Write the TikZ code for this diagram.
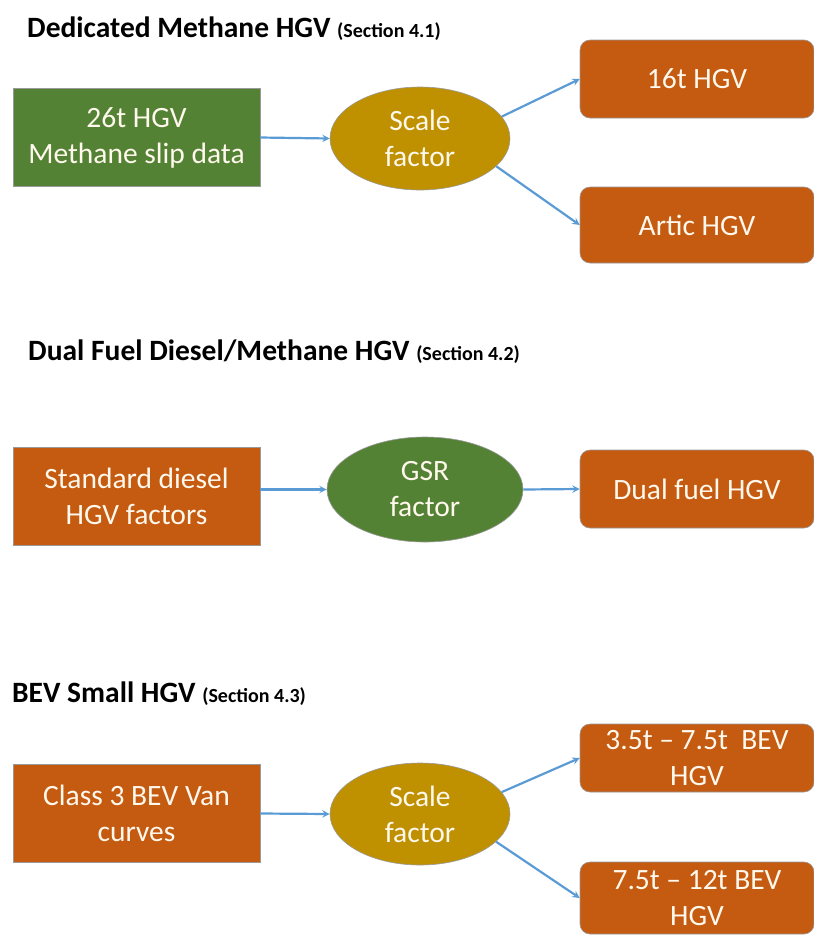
\documentclass[tikz,border=0pt]{standalone}
\usepackage{fontspec}
\setmainfont{Carlito}
\usetikzlibrary{shapes.geometric}

\definecolor{hgvgreen}{HTML}{548235}
\definecolor{hgvorange}{HTML}{C55A11}
\definecolor{hgvgold}{HTML}{BF9000}
\definecolor{arrowblue}{HTML}{5B9BD5}
\definecolor{boxtext}{HTML}{FFF8EC}

\newcommand{\secref}[1]{{\fontsize{20}{24}\selectfont (Section #1)}}

\begin{document}
\begin{tikzpicture}[x=1pt,y=-1pt,
  databox/.style={rectangle,draw=black!40,line width=0.6pt,text=boxtext,align=center,
    inner sep=0pt,minimum width=247pt,minimum height=98pt,font=\fontsize{29.5}{36}\selectfont},
  factor/.style={ellipse,draw=black!40,line width=0.6pt,text=boxtext,align=center,
    inner sep=0pt,font=\fontsize{29.5}{36}\selectfont},
  result/.style={rectangle,rounded corners=10pt,fill=hgvorange,draw=black!40,line width=0.6pt,
    text=boxtext,align=center,inner sep=0pt,minimum width=234pt,font=\fontsize{29.5}{36}\selectfont},
  flow/.style={-stealth,draw=arrowblue,line width=2.2pt},
  heading/.style={anchor=base west,inner sep=0pt,font=\fontsize{29.5}{36}\selectfont\bfseries}]

\useasboundingbox[fill=white] (0,0) rectangle (814,935);


%dedicated methane
\node[heading] (head1) at (27,37) {Dedicated Methane HGV \secref{4.1}};
\node[databox,fill=hgvgreen] (slip) at (136.5,137.5) {26t HGV\\Methane slip data};
\node[factor,fill=hgvgold,minimum width=180pt,minimum height=103pt] (scale1) at (420,138.5) {Scale\\factor};
\node[result,minimum height=78pt] (hgv16) at (697,79) {16t HGV};
\node[result,minimum height=76pt] (artic) at (697,225) {Artic HGV};

\draw[flow] (slip.east) -- (scale1.west);
\draw[flow] (scale1.15) -- (hgv16.west);
\draw[flow] (scale1.-20) -- (artic.west);


%dual fuel
\node[heading] (head2) at (28,360) {Dual Fuel Diesel/Methane HGV \secref{4.2}};
\node[databox,fill=hgvorange] (diesel) at (136.5,496) {Standard diesel\\HGV factors};
\node[factor,fill=hgvgreen,minimum width=196pt,minimum height=105pt] (gsr) at (425,489.5) {GSR\\factor};
\node[result,minimum height=78pt] (dual) at (697,489) {Dual fuel HGV};

\draw[flow] (diesel.east |- gsr.west) -- (gsr.west);
\draw[flow] (gsr.east) -- (dual.west);


%bev small hgv
\node[heading] (head3) at (12,702) {BEV Small HGV \secref{4.3}};
\node[databox,fill=hgvorange] (van) at (136.5,813.5) {Class 3 BEV Van\\curves};
\node[factor,fill=hgvgold,minimum width=180pt,minimum height=102pt] (scale3) at (420,814) {Scale\\factor};
\node[result,minimum height=68pt] (bevlow) at (697,758) {3.5t -- 7.5t\ \ BEV\\HGV};
\node[result,minimum height=72pt] (bevhigh) at (697,898) {7.5t -- 12t BEV\\HGV};

\draw[flow] (van.east) -- (scale3.west);
\draw[flow] (scale3.15) -- (bevlow.west);
\draw[flow] (scale3.-20) -- (bevhigh.west);
\end{tikzpicture}
\end{document}
